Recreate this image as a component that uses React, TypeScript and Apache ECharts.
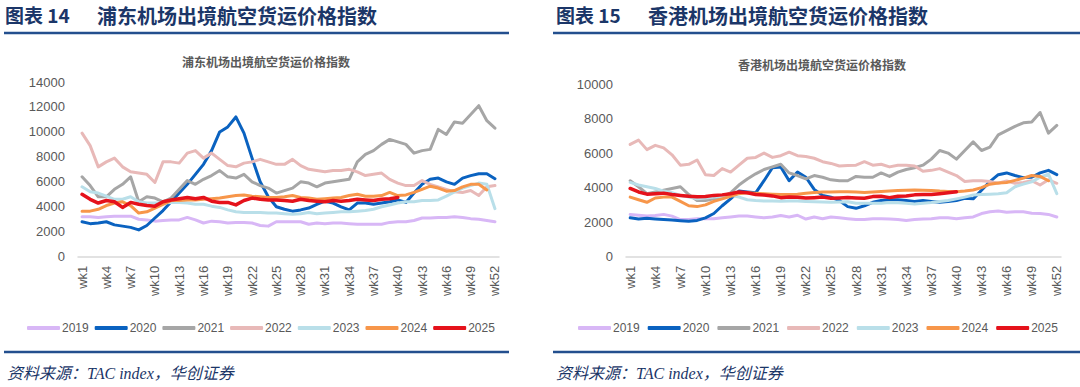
import React, { useEffect, useRef } from "react";
import * as echarts from "echarts";

const weeks: string[] = Array.from({ length: 52 }, (_, i) => `wk${i + 1}`);
const years = ["2019", "2020", "2021", "2022", "2023", "2024", "2025"];
const yearColors = ["#d8b7f6", "#0a62c0", "#a6a6a6", "#e8b9b8", "#b9dfe9", "#f7964a", "#e5121b"];

// 浦东机场出境航空货运价格指数
const pd2019 = [3200, 3200, 3150, 3200, 3250, 3250, 3250, 3000, 2950, 2850, 2900, 2950, 2950, 3150, 2950, 2700, 2850, 2800, 2700, 2750, 2750, 2700, 2500, 2450, 2800, 2800, 2800, 2800, 2600, 2700, 2650, 2700, 2700, 2650, 2600, 2600, 2600, 2600, 2750, 2800, 2800, 2900, 3100, 3100, 3150, 3150, 3200, 3150, 3050, 3000, 2900, 2800];
const pd2020 = [2800, 2650, 2700, 2800, 2550, 2450, 2350, 2150, 2500, 3100, 3700, 4400, 5100, 5800, 6600, 7400, 8500, 10000, 10400, 11200, 9900, 7900, 6000, 4800, 4000, 3800, 3650, 3750, 3900, 4200, 4450, 4300, 4000, 3750, 4300, 4300, 4200, 4300, 4400, 4550, 4350, 5100, 5800, 6200, 6300, 6000, 5800, 6300, 6500, 6650, 6650, 6250];
const pd2021 = [6400, 5700, 4800, 4800, 5400, 5800, 6400, 4400, 4800, 4700, 4400, 4700, 5400, 6100, 5800, 6200, 6500, 6900, 6400, 6300, 6600, 6000, 5700, 5500, 5100, 5300, 5500, 6000, 5900, 5600, 5900, 6000, 6100, 6200, 7600, 8200, 8500, 9000, 9400, 9200, 9000, 8300, 8500, 8600, 10200, 9800, 10800, 10700, 11400, 12100, 10900, 10300];
const pd2022 = [9900, 8900, 7200, 7600, 7900, 7200, 6800, 6700, 6600, 5950, 7600, 7600, 7500, 8300, 8500, 7900, 8300, 7800, 7300, 7200, 7500, 7600, 7800, 7600, 7400, 7400, 7800, 7300, 7000, 6900, 6800, 6900, 6900, 7000, 6800, 6500, 6600, 6700, 6200, 5900, 5700, 5700, 6100, 5800, 5600, 5400, 5200, 5150, 5300, 4900, 5600, 5700];
const pd2023 = [5600, 5200, 5100, 4850, 4600, 4600, 4800, 4400, 4300, 4300, 4300, 4350, 4350, 4300, 4200, 4200, 4050, 3950, 3750, 3600, 3550, 3550, 3550, 3500, 3500, 3450, 3400, 3450, 3550, 3450, 3500, 3550, 3600, 3600, 3650, 3700, 3800, 4000, 4150, 4300, 4400, 4400, 4500, 4500, 4550, 4850, 5200, 5500, 5700, 5900, 5800, 3850];
const pd2024 = [3650, 3650, 3800, 4100, 4300, 4400, 4100, 3500, 3600, 3900, 4200, 4500, 4500, 4550, 4550, 4600, 4650, 4700, 4800, 4900, 4950, 4850, 4800, 4750, 4750, 4800, 4900, 4750, 4700, 4600, 4650, 4700, 4750, 4900, 5000, 4850, 4850, 4900, 5150, 4900, 4950, 5150, 5400, 5650, 5500, 5250, 5300, 5600, 5800, 5800, 5350, null];
const pd2025 = [5000, 4600, 4300, 4500, 4400, 3950, 4350, 4200, 4100, 4050, 4400, 4550, 4650, 4750, 4650, 4750, 4450, 4350, 4350, 4150, 4500, 4700, 4600, 4550, 4550, 4500, 4450, 4600, 4500, 4450, 4400, 4500, 4450, 4500, 4600, 4550, 4500, 4600, 4650, 4750];

// 香港机场出境航空货运价格指数
const hk2019 = [2450, 2400, 2350, 2380, 2450, 2350, 2150, 2150, 2200, 2200, 2200, 2250, 2300, 2350, 2350, 2300, 2250, 2300, 2380, 2300, 2400, 2180, 2300, 2200, 2300, 2250, 2200, 2150, 2150, 2200, 2200, 2180, 2150, 2100, 2150, 2180, 2200, 2250, 2250, 2200, 2250, 2300, 2500, 2600, 2650, 2580, 2600, 2600, 2520, 2500, 2450, 2300];
const hk2020 = [2250, 2180, 2220, 2180, 2150, 2120, 2080, 2050, 2100, 2250, 2500, 2950, 3350, 3800, 3750, 3700, 4400, 5150, 5200, 4400, 4900, 4600, 3900, 3550, 3450, 3250, 2900, 2800, 2950, 3150, 3250, 3300, 3300, 3250, 3200, 3250, 3200, 3150, 3200, 3250, 3380, 3350, 3850, 4350, 4750, 4850, 4700, 4580, 4600, 4850, 5000, 4750];
const hk2021 = [4400, 4050, 3650, 3750, 3850, 3950, 4050, 3600, 3250, 3250, 3350, 3450, 3700, 4150, 4500, 4800, 5050, 5200, 5350, 4850, 4700, 4500, 4700, 4600, 4450, 4400, 4400, 4650, 4600, 4600, 4850, 4650, 4900, 5050, 5150, 5300, 5650, 6150, 6000, 5650, 6150, 6650, 6150, 6350, 7050, 7300, 7550, 7750, 7800, 8350, 7150, 7600];
const hk2022 = [6500, 6750, 6200, 6450, 6300, 5900, 5300, 5350, 5600, 4750, 4700, 5100, 4900, 5300, 5700, 5750, 6000, 5750, 5850, 6050, 5850, 5800, 5700, 5500, 5400, 5250, 5280, 5300, 5500, 5300, 5350, 5200, 5300, 5300, 5250, 4950, 5000, 5100, 4900, 4700, 4350, 4400, 4400, 4350, 4250, 4380, 4250, 4300, 4400, 4150, 4450, 4250];
const hk2023 = [4300, 4150, 4050, 3950, 3800, 3700, 3550, 3450, 3350, 3400, 3450, 3500, 3550, 3450, 3300, 3250, 3220, 3230, 3210, 3220, 3230, 3200, 3180, 3170, 3150, 3170, 3180, 3100, 3090, 3100, 3100, 3140, 3120, 3100, 3050, 3100, 3140, 3200, 3250, 3350, 3450, 3570, 3600, 3620, 3650, 3700, 4050, 4200, 4330, 4600, 4780, 3650];
const hk2024 = [3450, 3300, 3150, 3400, 3450, 3450, 3200, 2950, 2900, 3000, 3200, 3350, 3500, 3650, 3700, 3680, 3650, 3620, 3600, 3600, 3620, 3680, 3720, 3750, 3750, 3760, 3760, 3740, 3720, 3750, 3780, 3800, 3830, 3850, 3860, 3850, 3840, 3800, 3780, 3760, 3800, 3860, 4000, 4200, 4270, 4300, 4420, 4550, 4700, 4650, 4400, null];
const hk2025 = [3950, 3750, 3620, 3650, 3680, 3600, 3550, 3500, 3470, 3480, 3550, 3580, 3650, 3750, 3700, 3600, 3570, 3520, 3420, 3450, 3440, 3400, 3420, 3450, 3380, 3400, 3430, 3400, 3380, 3480, 3500, 3420, 3500, 3520, 3580, 3600, 3600, 3650, 3700, 3760];

const pdSeries = [pd2019, pd2020, pd2021, pd2022, pd2023, pd2024, pd2025];
const hkSeries = [hk2019, hk2020, hk2021, hk2022, hk2023, hk2024, hk2025];

const NAVY = "#1b3668";
const LINE_BLUE = "#234f8e";
const GRAY_TEXT = "#595959";
const CJK = "'Noto Sans CJK SC', sans-serif";
const SANS = "'Liberation Sans', 'Noto Sans CJK SC', sans-serif";

type PanelProps = {
  left: number;
  figNo: string;
  heading: string;
  chartTitle: string;
  series: (number | null)[][];
  yMax: number;
  gridLeft: number;
  gridTop: number;
  gridWidth: number;
  titleX: number;
  titleY: number;
  lineX1: number;
  lineX2: number;
  headX: number;
  legendLeft: number;
  legendGap: number;
};

function Panel(p: PanelProps) {
  const ref = useRef<HTMLDivElement>(null);
  useEffect(() => {
    if (!ref.current) return;
    const chart = echarts.init(ref.current, undefined, { renderer: "svg" });
    const option: any = {
      animation: false,
      graphic: [
        {
          type: "text",
          left: p.headX,
          top: 5,
          style: { text: p.figNo, font: `bold 19px ${CJK}`, fill: NAVY },
        },
        {
          type: "text",
          left: p.headX + 92,
          top: 5,
          style: { text: p.heading, font: `bold 20px ${CJK}`, fill: NAVY },
        },
        {
          type: "line",
          shape: { x1: p.lineX1, y1: 33, x2: p.lineX2, y2: 33 },
          style: { stroke: LINE_BLUE, lineWidth: 2.5 },
        },
        {
          type: "text",
          x: p.titleX,
          y: p.titleY,
          style: {
            text: p.chartTitle,
            font: `bold 12px ${CJK}`,
            fill: GRAY_TEXT,
            align: "center",
            verticalAlign: "middle",
          },
        },
        {
          type: "line",
          shape: { x1: p.lineX1, y1: 352, x2: p.lineX2, y2: 352 },
          style: { stroke: LINE_BLUE, lineWidth: 2.5 },
        },
        {
          type: "text",
          x: p.lineX1 + 3,
          y: 373,
          style: {
            text: "资料来源：TAC index，华创证券",
            font: `italic 16px 'Liberation Serif', 'Noto Sans CJK SC', serif`,
            fill: NAVY,
            verticalAlign: "middle",
          },
        },
      ],
      legend: {
        data: years,
        left: p.legendLeft,
        top: 317,
        icon: "roundRect",
        itemWidth: 33,
        itemHeight: 4,
        itemGap: p.legendGap,
        textStyle: { fontSize: 12, color: GRAY_TEXT, fontFamily: SANS, padding: [0, 0, 0, -3] },
      },
      grid: { left: p.gridLeft, top: p.gridTop, width: p.gridWidth, bottom: 387 - 256.7 },
      xAxis: {
        type: "category",
        data: weeks,
        boundaryGap: true,
        axisLine: { lineStyle: { color: "#d9d9d9", width: 1.5 } },
        axisTick: { show: false },
        axisLabel: {
          rotate: 90,
          interval: 2,
          fontSize: 13,
          color: GRAY_TEXT,
          fontFamily: SANS,
          margin: 9,
        },
      },
      yAxis: {
        type: "value",
        min: 0,
        max: p.yMax,
        interval: 2000,
        splitLine: { show: false },
        axisLine: { show: false },
        axisTick: { show: false },
        axisLabel: {
          fontSize: 13,
          color: GRAY_TEXT,
          fontFamily: SANS,
          margin: 13,
          formatter: (v: number) => String(v),
        },
      },
      series: years.map((y, i) => ({
        name: y,
        type: "line",
        data: p.series[i],
        symbol: "none",
        smooth: false,
        z: 2 + i,
        itemStyle: { color: yearColors[i] },
        lineStyle: { color: yearColors[i], width: i === 6 ? 3.5 : 3, cap: "round", join: "round" },
      })),
    };
    chart.setOption(option);
    return () => chart.dispose();
  }, []);
  return (
    <div
      ref={ref}
      style={{ position: "absolute", left: p.left, top: 0, width: 540, height: 387 }}
    />
  );
}

export default function App() {
  return (
    <div
      style={{
        position: "absolute",
        left: 0,
        top: 0,
        width: 1080,
        height: 387,
        background: "#ffffff",
        overflow: "hidden",
      }}
    >
      <Panel
        left={0}
        figNo="图表 14"
        heading="浦东机场出境航空货运价格指数"
        chartTitle="浦东机场出境航空货运价格指数"
        series={pdSeries}
        yMax={14000}
        gridLeft={78}
        gridTop={82}
        gridWidth={421}
        titleX={266}
        titleY={61}
        lineX1={4}
        lineX2={509}
        headX={5}
        legendLeft={22}
        legendGap={6}
      />
      <Panel
        left={540}
        figNo="图表 15"
        heading="香港机场出境航空货运价格指数"
        chartTitle="香港机场出境航空货运价格指数"
        series={hkSeries}
        yMax={10000}
        gridLeft={86}
        gridTop={84}
        gridWidth={435}
        titleX={282}
        titleY={64}
        lineX1={13}
        lineX2={540}
        headX={16}
        legendLeft={33}
        legendGap={8}
      />
    </div>
  );
}
